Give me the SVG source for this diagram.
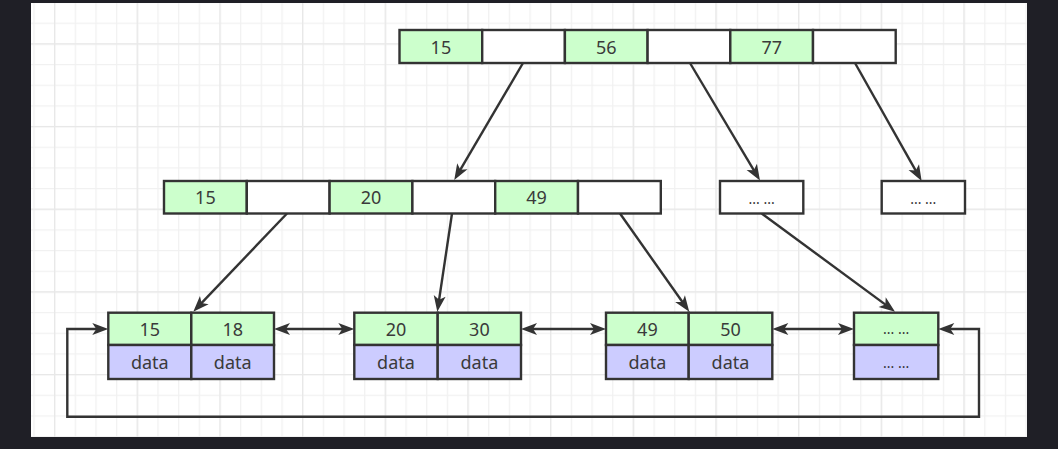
<svg xmlns="http://www.w3.org/2000/svg" width="1058" height="449" viewBox="0 0 1058 449">
<style>
.b{stroke:#333;stroke-width:2.4}
.g{fill:#CCFFCC}
.w{fill:#FFFFFF}
.p{fill:#CCCCFF}
.t{font-family:"Noto Sans","Open Sans","Liberation Sans",sans-serif;font-size:18px;fill:#3a3a3a;text-anchor:middle}
.d{font-family:"Noto Sans","Open Sans","Liberation Sans",sans-serif;font-size:14px;fill:#333;text-anchor:middle}
.c{fill:none;stroke:#333;stroke-width:2.4}
</style>
<defs>
<pattern id="minor" x="12.7" y="2" width="20.67" height="20.67" patternUnits="userSpaceOnUse">
<path d="M0,0.5H20.67M0.5,0V20.67" fill="none" stroke="#f1f1f1" stroke-width="1.5"/>
</pattern>
<pattern id="major" x="136.7" y="43.3" width="82.67" height="82.67" patternUnits="userSpaceOnUse">
<path d="M0,0.5H82.67M0.5,0V82.67" fill="none" stroke="#e8e8e8" stroke-width="1.5"/>
</pattern>
<marker id="ah" markerUnits="userSpaceOnUse" markerWidth="18" markerHeight="14" refX="10" refY="6" orient="auto-start-reverse" overflow="visible">
<path d="M0,0L16,6L0,12L4,6Z" fill="#333"/>
</marker>
</defs>
<rect width="1058" height="449" fill="#1f1f26"/>
<rect x="31" y="3" width="996" height="434" fill="#fff"/>
<rect x="31" y="3" width="996" height="434" fill="url(#minor)"/>
<rect x="31" y="3" width="996" height="434" fill="url(#major)"/>

<g id="connectors">
<path class="c" marker-end="url(#ah)" d="M523,63L457.3,174.8"/>
<path class="c" marker-end="url(#ah)" d="M690,63L756.9,175.4"/>
<path class="c" marker-end="url(#ah)" d="M855,63L918.7,175.8"/>
<path class="c" marker-end="url(#ah)" d="M287,213.5L197.4,307.4"/>
<path class="c" marker-end="url(#ah)" d="M452,213.5L438.2,305.8"/>
<path class="c" marker-end="url(#ah)" d="M620,213.5L685.8,306.8"/>
<path class="c" marker-end="url(#ah)" d="M761.7,213.5L890.2,308.1"/>
<path class="c" marker-start="url(#ah)" marker-end="url(#ah)" d="M280,329H348.3"/>
<path class="c" marker-start="url(#ah)" marker-end="url(#ah)" d="M527,329H600"/>
<path class="c" marker-start="url(#ah)" marker-end="url(#ah)" d="M778.3,329H848"/>
<path class="c" marker-start="url(#ah)" marker-end="url(#ah)" d="M944.3,329H979V416.7H67.3V329H102.3"/>
</g>

<g id="root">
<rect class="b g" x="399.5" y="30" width="82.7" height="33"/>
<rect class="b w" x="482.2" y="30" width="82.7" height="33"/>
<rect class="b g" x="564.9" y="30" width="82.7" height="33"/>
<rect class="b w" x="647.6" y="30" width="82.7" height="33"/>
<rect class="b g" x="730.3" y="30" width="82.7" height="33"/>
<rect class="b w" x="813" y="30" width="82.7" height="33"/>
<text class="t" x="440.9" y="53.5">15</text>
<text class="t" x="606.3" y="53.5">56</text>
<text class="t" x="771.7" y="53.5">77</text>
</g>

<g id="mid">
<rect class="b g" x="164" y="181" width="82.8" height="32.5"/>
<rect class="b w" x="246.8" y="181" width="82.8" height="32.5"/>
<rect class="b g" x="329.6" y="181" width="82.8" height="32.5"/>
<rect class="b w" x="412.4" y="181" width="82.8" height="32.5"/>
<rect class="b g" x="495.2" y="181" width="82.8" height="32.5"/>
<rect class="b w" x="578" y="181" width="82.8" height="32.5"/>
<text class="t" x="205.4" y="204">15</text>
<text class="t" x="371" y="204">20</text>
<text class="t" x="536.6" y="204">49</text>
</g>

<g id="mid2">
<rect class="b w" x="720" y="181" width="83.3" height="32.5"/>
<text class="d" x="761.7" y="203.5">... ...</text>
</g>

<g id="mid3">
<rect class="b w" x="881.7" y="181" width="83.3" height="32.5"/>
<text class="d" x="923.3" y="203.5">... ...</text>
</g>

<g id="leaf1">
<rect class="b g" x="108.3" y="312.7" width="83" height="32.3"/>
<rect class="b g" x="191.3" y="312.7" width="82.7" height="32.3"/>
<rect class="b p" x="108.3" y="345" width="83" height="34"/>
<rect class="b p" x="191.3" y="345" width="82.7" height="34"/>
<text class="t" x="149.8" y="336">15</text>
<text class="t" x="232.7" y="336">18</text>
<text class="t" x="149.8" y="369">data</text>
<text class="t" x="232.7" y="369">data</text>
</g>

<g id="leaf2">
<rect class="b g" x="354.3" y="312.7" width="83.4" height="32.3"/>
<rect class="b g" x="437.7" y="312.7" width="83.3" height="32.3"/>
<rect class="b p" x="354.3" y="345" width="83.4" height="34"/>
<rect class="b p" x="437.7" y="345" width="83.3" height="34"/>
<text class="t" x="396" y="336">20</text>
<text class="t" x="479.4" y="336">30</text>
<text class="t" x="396" y="369">data</text>
<text class="t" x="479.4" y="369">data</text>
</g>

<g id="leaf3">
<rect class="b g" x="606" y="312.7" width="82.7" height="32.3"/>
<rect class="b g" x="688.7" y="312.7" width="83.6" height="32.3"/>
<rect class="b p" x="606" y="345" width="82.7" height="34"/>
<rect class="b p" x="688.7" y="345" width="83.6" height="34"/>
<text class="t" x="647.4" y="336">49</text>
<text class="t" x="730.5" y="336">50</text>
<text class="t" x="647.4" y="369">data</text>
<text class="t" x="730.5" y="369">data</text>
</g>

<g id="leaf4">
<rect class="b g" x="854" y="312.7" width="84.3" height="32.3"/>
<rect class="b p" x="854" y="345" width="84.3" height="34"/>
<text class="d" x="896.2" y="333.5">... ...</text>
<text class="d" x="896.2" y="368">... ...</text>
</g>
</svg>
